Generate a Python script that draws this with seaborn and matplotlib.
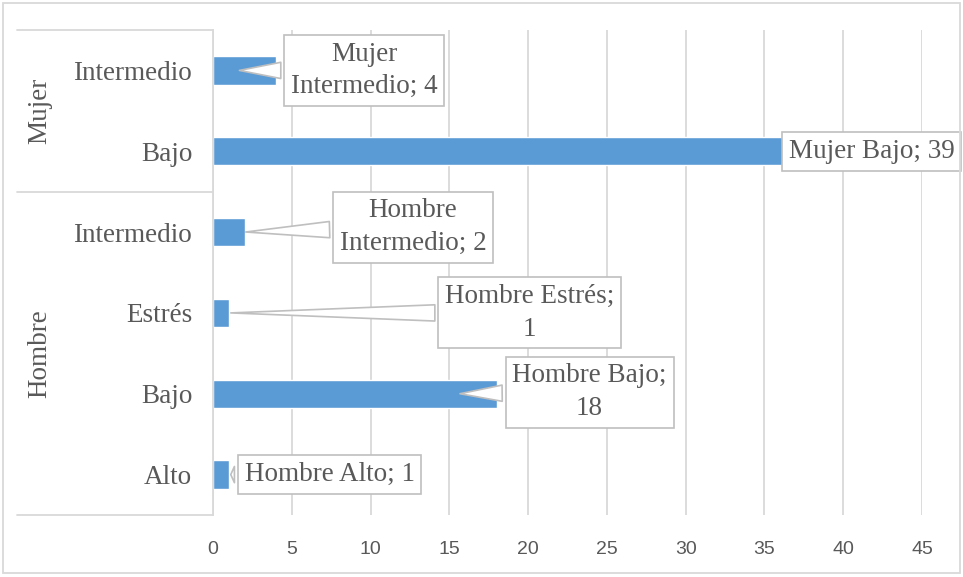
import pandas as pd
import seaborn as sns
import matplotlib.pyplot as plt
from matplotlib.patches import Rectangle
import matplotlib.transforms as mtransforms

sns.set_style("white")
plt.rcParams['font.family'] = ['Liberation Serif', 'DejaVu Serif']

# data, top to bottom as in the chart
groups = ["Mujer", "Mujer", "Hombre", "Hombre", "Hombre", "Hombre"]
levels = ["Intermedio", "Bajo", "Intermedio", "Estrés", "Bajo", "Alto"]
values = [4, 39, 2, 1, 18, 1]

# where each callout box sits (x in data units, y offset in rows)
label_x = [9.6, 41.8, 12.7, 20.1, 23.9, 7.4]
label_dy = [0.0, 0.0, -0.06, 0.0, -0.02, 0.0]
label_arrow = [True, False, True, True, True, True]
label_tip = [1.5, 39, 1.9, 0.95, 15.5, 0.95]

df = pd.DataFrame({"grupo": groups, "nivel": levels, "valor": values})
df["key"] = df["grupo"] + " " + df["nivel"]

gray_txt = "#595959"
grid_c = "#D9D9D9"
bar_c = "#5B9BD5"

fig = plt.figure(figsize=(9.63, 5.77), dpi=100)
ax = fig.add_axes([213 / 963, 62 / 577, 709 / 963, 485 / 577])

sns.barplot(data=df, x="valor", y="key", orient="h", color=bar_c,
            width=0.35, saturation=1, ax=ax, zorder=2)

ax.set_xlim(0, 45)
ax.set_xticks(range(0, 46, 5))
ax.set_ylim(len(df) - 0.5, -0.5)
ax.set_xlabel("")
ax.set_ylabel("")
ax.set_yticks(range(len(df)))
ax.set_yticklabels(levels, fontsize=19.5, color=gray_txt)
ax.tick_params(axis="y", length=0, pad=15)
ax.tick_params(axis="x", length=0, pad=19, labelsize=14, labelcolor=gray_txt)
for t in ax.get_xticklabels():
    t.set_fontfamily(["Liberation Sans", "DejaVu Sans"])

ax.grid(axis="x", color=grid_c, linewidth=1.3, zorder=0)
ax.set_axisbelow(True)
for side in ["top", "right", "bottom"]:
    ax.spines[side].set_visible(False)
ax.spines["left"].set_color(grid_c)
ax.spines["left"].set_linewidth(1.3)

# group separators and group labels on the category axis
trans = mtransforms.blended_transform_factory(ax.transAxes, ax.transData)
x_left = (17 - 213) / 709
for yb in [-0.5, 1.5, 5.5]:
    ax.plot([x_left, 0], [yb, yb], color=grid_c, linewidth=1.3,
            transform=trans, clip_on=False)
grp_names = ["Mujer", "Hombre"]
grp_centers = [0.5, 3.5]
for name, yc in zip(grp_names, grp_centers):
    ax.text((40 - 213) / 709, yc, name, rotation=90, ha="center", va="center",
            fontsize=19.5, color=gray_txt, transform=trans)

# callout labels
for i, row in df.iterrows():
    txt = f"{row['grupo']} {row['nivel']}; {row['valor']}"
    if i == 0:
        txt = "Mujer\nIntermedio; 4"
    elif i == 2:
        txt = "Hombre\nIntermedio; 2"
    elif i == 3:
        txt = "Hombre Estrés;\n1"
    elif i == 4:
        txt = "Hombre Bajo;\n18"
    bbox = dict(boxstyle="square,pad=0.25", fc="white", ec="#BFBFBF", lw=1.2)
    kw = {}
    if label_arrow[i]:
        kw["arrowprops"] = dict(arrowstyle="wedge,tail_width=0.6,shrink_factor=0.5",
                                fc="white", ec="#BFBFBF", lw=1.2)
    ax.annotate(txt, xy=(label_tip[i], i), xytext=(label_x[i], i + label_dy[i]),
                ha="center", va="center", multialignment="center",
                fontsize=19.5, color=gray_txt, linespacing=1.4,
                bbox=bbox, annotation_clip=False, zorder=5, **kw)

# outer chart border
fig.patches.append(Rectangle((3 / 963, 4 / 577), 957 / 963, 570 / 577,
                             transform=fig.transFigure, fill=False,
                             ec=grid_c, lw=1.3))

plt.savefig("out.png", dpi=100)
